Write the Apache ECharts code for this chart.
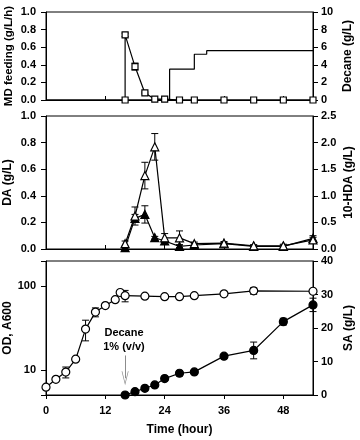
<!DOCTYPE html>
<html>
<head>
<meta charset="utf-8">
<script src="https://cdn.jsdelivr.net/npm/echarts@6/dist/echarts.min.js"></script>
<style>
  html, body { margin: 0; padding: 0; background: #fff; }
  #chart { width: 360px; height: 440px; }
</style>
</head>
<body>
<div id="chart"></div>
<script>
// shared time axis (hour)
const timeTicks = [0, 12, 24, 36, 48];

// top panel: MD feeding rate (g/L/h) and cumulative decane (g/L)
const mdTime = [16, 16, 18, 20, 22, 24, 27, 30, 36, 42, 48, 54];
const mdRate = [0, 0.74, 0.38, 0.08, 0.01, 0.01, 0, 0, 0, 0, 0, 0];
const mdErr  = [0, 0.02, 0.04, 0.01, 0, 0.01, 0, 0, 0, 0, 0, 0];
const decaneTime = [0, 25, 25, 30, 30, 32.5, 32.5, 54];
const decaneConc = [0, 0, 3.5, 3.5, 5.2, 5.2, 5.6, 5.6];

// middle panel: DA (filled) and 10-HDA (open)
const acidTime = [16, 18, 20, 22, 24, 27, 30, 36, 42, 48, 54];
const daConc  = [0.01, 0.23, 0.26, 0.085, 0.06, 0.02, 0.03, 0.04, 0.02, 0.02, 0.08];
const daErr   = [0.01, 0.03, 0.065, 0.01, 0.01, 0.01, 0.01, 0.01, 0.01, 0.01, 0.02];
const hdaConc = [0.1, 0.62, 1.38, 1.92, 0.21, 0.21, 0.1, 0.11, 0.06, 0.06, 0.17];
const hdaErr  = [0.05, 0.17, 0.25, 0.25, 0.08, 0.13, 0.03, 0.03, 0.02, 0.03, 0.05];

// bottom panel: OD A600 (open, log) and SA (filled)
const odTime = [0, 2, 4, 6, 8, 10, 12, 14, 15, 16, 20, 24, 27, 30, 36, 42, 54];
const od     = [6.2, 7.7, 9.4, 13.4, 30.7, 49, 58.6, 69, 84, 77, 76, 75, 75, 77, 81, 88, 87];
const odErr  = [0.2, 0.3, 1.4, 0.5, 8.5, 6, 2, 2, 2, 12, 2, 3, 2, 3, 4, 8, 3];
const saTime = [16, 18, 20, 22, 24, 27, 30, 36, 42, 48, 54];
const sa     = [0, 1.0, 2.0, 3.0, 4.9, 6.5, 6.9, 11.6, 13.3, 21.9, 26.9];
const saErr  = [0.2, 0.2, 0.2, 0.3, 0.4, 0.8, 0.5, 0.5, 2.5, 1.0, 2.0];

// decane addition arrow (SA units)
const decaneAddTime = 16;
const arrowFrom = 11.8;
const arrowTo = 5;

const FONT = '"Liberation Sans", Arial, sans-serif';
const chart = echarts.init(document.getElementById('chart'));

const pairs = (xs, ys) => xs.map((x, i) => [x, ys[i]]);
const errRows = (xs, ys, es) => xs
  .map((x, i) => [x, ys[i] - es[i], ys[i] + es[i]])
  .filter((r, i) => es[i] > 0);

function errorBars(axisIdx, yIdx, data) {
  return {
    type: 'custom',
    xAxisIndex: axisIdx,
    yAxisIndex: yIdx,
    silent: true,
    z: 1,
    data: data,
    encode: { x: 0, y: [1, 2] },
    renderItem: (params, api) => {
      const x = api.value(0);
      const lo = api.coord([x, api.value(1)]);
      const hi = api.coord([x, api.value(2)]);
      const w = 3.5;
      const style = { stroke: '#000', lineWidth: 1, fill: null };
      return {
        type: 'group',
        children: [
          { type: 'line', shape: { x1: lo[0], y1: lo[1], x2: hi[0], y2: hi[1] }, style },
          { type: 'line', shape: { x1: lo[0] - w, y1: lo[1], x2: lo[0] + w, y2: lo[1] }, style },
          { type: 'line', shape: { x1: hi[0] - w, y1: hi[1], x2: hi[0] + w, y2: hi[1] }, style }
        ]
      };
    }
  };
}

function lineSeries(xIdx, yIdx, data, symbol, size, filled) {
  return {
    type: 'line',
    xAxisIndex: xIdx,
    yAxisIndex: yIdx,
    data: data,
    symbol: symbol,
    symbolSize: size,
    showAllSymbol: true,
    z: 3,
    lineStyle: { color: '#000', width: 1.2 },
    itemStyle: { color: filled ? '#000' : '#fff', borderColor: '#000', borderWidth: 1.2 }
  };
}

const labelStyle = { color: '#000', fontFamily: FONT, fontWeight: 'bold', fontSize: 11 };
const nameStyle = { color: '#000', fontFamily: FONT, fontWeight: 'bold', fontSize: 12 };
const axisLine = { show: true, lineStyle: { color: '#000', width: 1 } };

function xAxis(gridIndex, bottom) {
  return {
    type: 'value',
    gridIndex: gridIndex,
    min: 0,
    max: 54,
    interval: 12,
    axisLine: axisLine,
    splitLine: { show: false },
    axisTick: {
      show: true,
      inside: !bottom,
      length: 4,
      customValues: timeTicks,
      lineStyle: { color: '#000' }
    },
    axisLabel: Object.assign({ show: bottom, margin: 10, customValues: timeTicks }, labelStyle),
    name: bottom ? 'Time (hour)' : '',
    nameLocation: 'middle',
    nameGap: 29,
    nameMoveOverlap: false,
    nameTextStyle: nameStyle
  };
}

function yAxis(gridIndex, pos, min, max, interval, name, gap, fmt, nameExtra) {
  return {
    type: 'value',
    gridIndex: gridIndex,
    position: pos,
    min: min,
    max: max,
    interval: interval,
    axisLine: axisLine,
    splitLine: { show: false },
    axisTick: { show: true, length: 5, lineStyle: { color: '#000' } },
    axisLabel: Object.assign({ margin: pos === 'left' ? 10 : 8, formatter: fmt }, labelStyle),
    name: name,
    nameLocation: 'middle',
    nameGap: gap,
    nameRotate: 90,
    nameMoveOverlap: false,
    nameTextStyle: Object.assign({}, nameStyle, nameExtra || {})
  };
}

const oneDec = v => v.toFixed(1);
const whole = v => String(Math.round(v));

const gridBox = {
  left: 46, right: 47, show: true, borderColor: '#000', borderWidth: 1,
  containLabel: false, outerBoundsMode: 'none'
};

const option = {
  animation: false,
  backgroundColor: '#fff',
  grid: [
    Object.assign({ top: 12, height: 88 }, gridBox),
    Object.assign({ top: 116, height: 133 }, gridBox),
    Object.assign({ top: 261, height: 134 }, gridBox)
  ],
  xAxis: [xAxis(0, false), xAxis(1, false), xAxis(2, true)],
  yAxis: [
    yAxis(0, 'left', 0, 1, 0.2, 'MD feeding (g/L/h)', 31, oneDec, { fontSize: 11.5 }),
    yAxis(0, 'right', 0, 10, 2, 'Decane (g/L)', 29, whole),
    yAxis(1, 'left', 0, 1, 0.2, 'DA (g/L)', 32.5, oneDec),
    yAxis(1, 'right', 0, 2.5, 0.5, '10-HDA (g/L)', 30, oneDec),
    {
      type: 'log',
      gridIndex: 2,
      position: 'left',
      min: 5,
      max: 200,
      axisLine: axisLine,
      splitLine: { show: false },
      minorTick: { show: false },
      axisTick: { show: true, length: 5, lineStyle: { color: '#000' } },
      axisLabel: Object.assign({
        margin: 10,
        formatter: v => {
          const r = Math.round(v);
          return (r === 10 || r === 100) ? String(r) : '';
        }
      }, labelStyle),
      name: 'OD, A600',
      nameLocation: 'middle',
      nameGap: 32.5,
      nameRotate: 90,
      nameMoveOverlap: false,
      nameTextStyle: nameStyle
    },
    yAxis(2, 'right', 0, 40, 10, 'SA (g/L)', 30, whole)
  ],
  graphic: [
    {
      type: 'text', x: 124, y: 333,
      style: { text: 'Decane', fill: '#000', font: 'bold 11px ' + FONT, textAlign: 'center', textVerticalAlign: 'middle' }
    },
    {
      type: 'text', x: 124, y: 347,
      style: { text: '1% (v/v)', fill: '#000', font: 'bold 11px ' + FONT, textAlign: 'center', textVerticalAlign: 'middle' }
    }
  ],
  series: [
    // top panel
    {
      type: 'line', xAxisIndex: 0, yAxisIndex: 1,
      data: pairs(decaneTime, decaneConc),
      symbol: 'none', z: 2,
      lineStyle: { color: '#000', width: 1.2 }
    },
    errorBars(0, 0, errRows(mdTime, mdRate, mdErr)),
    lineSeries(0, 0, pairs(mdTime, mdRate), 'rect', 6, false),

    // middle panel
    errorBars(1, 2, errRows(acidTime, daConc, daErr)),
    errorBars(1, 3, errRows(acidTime, hdaConc, hdaErr)),
    lineSeries(1, 2, pairs(acidTime, daConc), 'triangle', 8, true),
    lineSeries(1, 3, pairs(acidTime, hdaConc), 'triangle', 8, false),

    // bottom panel
    errorBars(2, 4, errRows(odTime, od, odErr)),
    errorBars(2, 5, errRows(saTime, sa, saErr)),
    lineSeries(2, 4, pairs(odTime, od), 'circle', 8, false),
    Object.assign(lineSeries(2, 5, pairs(saTime, sa), 'circle', 8, true), {
      markLine: {
        silent: true,
        symbol: ['none', 'path://M0,14 L5,0 L10,14 L9,14 L5,2.8 L1,14 Z'],
        symbolSize: [7, 14],
        label: { show: false },
        lineStyle: { color: '#8c8c8c', width: 1, type: 'solid' },
        itemStyle: { color: '#8c8c8c' },
        data: [[{ coord: [decaneAddTime, arrowFrom] }, { coord: [decaneAddTime, arrowTo] }]]
      }
    })
  ]
};

chart.setOption(option);
</script>
</body>
</html>
